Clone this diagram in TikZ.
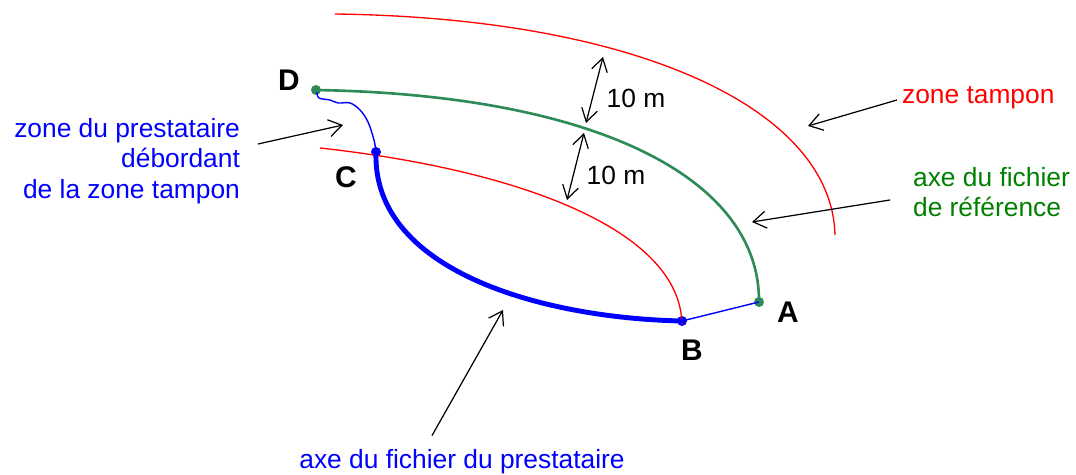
\documentclass[tikz,border=0pt]{standalone}
\usepackage{fontspec}
\setmainfont{Liberation Sans}
\usepackage{xcolor}
\definecolor{zred}{RGB}{255,0,0}
\definecolor{zgreen}{RGB}{46,139,87}
\definecolor{ztext}{RGB}{0,128,0}
\definecolor{zblue}{RGB}{0,0,255}
\usepackage{tikz}
\usetikzlibrary{arrows.meta,positioning,calc}

\begin{document}
\begin{tikzpicture}[x=0.02cm, y=-0.02cm,
  pointer/.style={draw=black, line width=0.7pt, -{Straight Barb[length=2.6mm,width=3.4mm]}},
  twoway/.style={draw=black, line width=0.7pt, {Straight Barb[length=2.6mm,width=3.2mm]}-{Straight Barb[length=2.6mm,width=3.2mm]}},
  gdot/.style={circle, fill=zgreen, inner sep=0pt, minimum size=0.2cm},
  bdot/.style={circle, fill=zblue, inner sep=0pt, minimum size=0.2cm},
  letter/.style={font=\fontsize{17}{20}\selectfont\bfseries},
  lbl/.style={font=\fontsize{15}{17.5}\selectfont, inner sep=1pt}]

\useasboundingbox (0,0) rectangle (1076,475);

% points
\node[gdot] (D) at (316,90) {};
\node[gdot] (A) at (759,302) {};
\node[bdot] (C) at (376,152) {};
\node[bdot] (B) at (682,321) {};

% buffer zone
\draw[zred, line width=0.75pt] (335,14) .. controls (640,18) and (832,110) .. (835,235);
\draw[zred, line width=0.75pt] (320,148) .. controls (520,170) and (680,230) .. (682,324);

% reference axis
\draw[zgreen, line width=1.5pt] (D.center) .. controls (600,95) and (760,180) .. (A.center);

% provider axis
\draw[zblue, line width=2.8pt] (C.center) .. controls (372,270) and (540,318) .. (B.center);
\draw[zblue, line width=0.8pt] (B.center) -- (A.center);
\draw[zblue, line width=0.8pt] plot[smooth, tension=0.6] coordinates
  {(317,92) (319,98) (330,100) (338,103) (350,103) (360,110) (368,122) (374,140) (376,152)};

% letters
\node[letter] at (289,80) {D};
\node[letter] at (346,177) {C};
\node[letter] at (692,350) {B};
\node[letter] at (788,312) {A};

% 10 m
\coordinate (m1) at (603,57);
\coordinate (m2) at (586,123);
\coordinate (m3) at (584,133);
\coordinate (m4) at (567,200);
\draw[twoway] (m1) -- (m2);
\draw[twoway] (m3) -- (m4);
\node[lbl] (d1) at (636,98) {10 m};
\node[lbl] (d2) at (616,175) {10 m};

% texts
\node[lbl, text=zred, anchor=west] (ztamp) at (900,98) {zone tampon};
\node[lbl, text=ztext, align=left, anchor=west] (zref) at (911,192) {axe du fichier\\de référence};
\node[lbl, text=zblue, align=right, anchor=east] (zpres) at (242,161)
  {zone du prestataire\\débordant\\de la zone tampon};
\node[lbl, text=zblue] (zaxe) at (462,462) {axe du fichier du prestataire};

% arrows
\coordinate (h1) at (808,126);
\coordinate (h2) at (752,222);
\coordinate (h3) at (343,125);
\coordinate (h4) at (503,310);
\draw[pointer] ([shift={(-3,2)}]ztamp.west) -- (h1);
\draw[pointer] ([shift={(-21,8)}]zref.west) -- (h2);
\draw[pointer] ([shift={(16,-17)}]zpres.east) -- (h3);
\draw[pointer] ([shift={(-30,-12)}]zaxe.north) -- (h4);

\end{tikzpicture}
\end{document}
